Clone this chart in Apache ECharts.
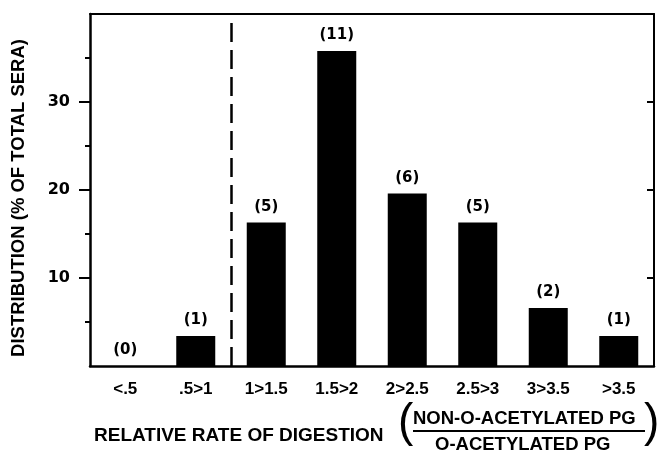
<!DOCTYPE html>
<html>
<head>
<meta charset="utf-8">
<script src="https://cdn.jsdelivr.net/npm/echarts@6/dist/echarts.min.js"></script>
<style>
html,body{margin:0;padding:0;background:#fff;}
#chart{width:660px;height:454px;}
</style>
</head>
<body>
<div id="chart"></div>
<script>
// Data
const categories = ['<.5', '.5>1', '1>1.5', '1.5>2', '2>2.5', '2.5>3', '3>3.5', '>3.5'];
const percentValues = [0, 3.4, 16.3, 35.8, 19.6, 16.3, 6.6, 3.4];
const seraCounts = [0, 1, 5, 11, 6, 5, 2, 1];
const yTickValues = [10, 20, 30];
const yMinorTickStep = 5;
const yMax = 40;
const cutoffBetween = 1.5; // dashed line between '.5>1' and '1>1.5' (category index units)

const FONT = '"Liberation Sans", Arial, Helvetica, sans-serif';
const NUMFONT = '"DejaVu Sans", "Liberation Sans", Arial, sans-serif';
const chart = echarts.init(document.getElementById('chart'), null, {renderer: 'canvas'});

const option = {
  backgroundColor: '#fff',
  animation: false,
  grid: {left: 90, right: 6, top: 14, bottom: 88, containLabel: false},
  xAxis: [{
    type: 'category',
    data: categories,
    position: 'bottom',
    axisLine: {show: true, onZero: false, lineStyle: {color: '#000', width: 2.5}},
    axisTick: {show: false},
    axisLabel: {color: '#000', fontFamily: FONT, fontWeight: 'bold', fontSize: 17, margin: 15},
    splitLine: {show: false}
  }, {
    // index-unit axis used for the dashed cutoff line and the top frame
    type: 'value',
    min: -0.5, max: categories.length - 0.5,
    position: 'top',
    axisLine: {show: true, onZero: false, lineStyle: {color: '#000', width: 2}},
    axisTick: {show: false},
    axisLabel: {show: false},
    splitLine: {show: false}
  }],
  yAxis: [{
    type: 'value',
    min: 0, max: yMax, interval: 10,
    position: 'left',
    axisLine: {show: true, onZero: false, lineStyle: {color: '#000', width: 2.5}},
    axisTick: {show: true, inside: false, length: 11, lineStyle: {color: '#000', width: 2}, customValues: yTickValues},
    minorTick: {show: true, splitNumber: 10 / yMinorTickStep, length: 5, lineStyle: {color: '#000', width: 2}},
    axisLabel: {color: '#000', fontFamily: NUMFONT, fontWeight: 'bold', fontSize: 16, margin: 20, customValues: yTickValues},
    splitLine: {show: false},
    name: 'DISTRIBUTION (% OF TOTAL SERA)',
    nameLocation: 'middle',
    nameGap: 62,
    nameTextStyle: {color: '#000', fontFamily: FONT, fontWeight: 'bold', fontSize: 18.5, padding: [0, 16, 0, 0]}
  }, {
    type: 'value',
    min: 0, max: yMax, interval: 10,
    position: 'right',
    axisLine: {show: true, onZero: false, lineStyle: {color: '#000', width: 2}},
    axisTick: {show: true, inside: true, length: 7, lineStyle: {color: '#000', width: 2}, customValues: yTickValues},
    axisLabel: {show: false},
    splitLine: {show: false}
  }],
  series: [{
    type: 'bar',
    xAxisIndex: 0,
    yAxisIndex: 0,
    data: percentValues,
    barWidth: 39,
    itemStyle: {color: '#000'},
    label: {
      show: true,
      position: 'top',
      distance: 8,
      color: '#000',
      fontFamily: NUMFONT,
      fontWeight: 'bold',
      fontSize: 15,
      formatter: p => '(' + seraCounts[p.dataIndex] + ')'
    }
  }, {
    type: 'line',
    xAxisIndex: 1,
    yAxisIndex: 1,
    data: [],
    markLine: {
      silent: true,
      symbol: 'none',
      label: {show: false},
      lineStyle: {color: '#000', width: 2.5, type: [19, 8]},
      data: [{xAxis: cutoffBetween}]
    }
  }],
  graphic: [
    {type: 'text', left: 94, top: 426, style: {text: 'RELATIVE RATE OF DIGESTION', fill: '#000', font: 'bold 19px ' + FONT}},
    {type: 'text', left: 398, top: 400, style: {text: '(', fill: '#000', font: '46px ' + FONT}},
    {type: 'text', left: 413, top: 409, style: {text: 'NON-O-ACETYLATED PG', fill: '#000', font: 'bold 18.5px ' + FONT}},
    {type: 'rect', shape: {x: 413, y: 430, width: 232, height: 2}, style: {fill: '#000'}},
    {type: 'text', left: 435, top: 435, style: {text: 'O-ACETYLATED PG', fill: '#000', font: 'bold 18.5px ' + FONT}},
    {type: 'text', left: 644, top: 400, style: {text: ')', fill: '#000', font: '46px ' + FONT}}
  ]
};
chart.setOption(option);
</script>
</body>
</html>
